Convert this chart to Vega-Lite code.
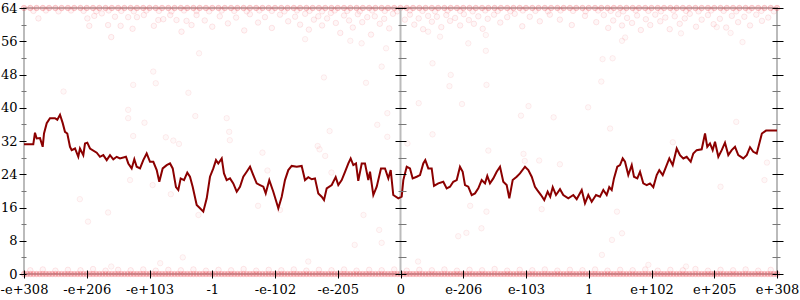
{
"$schema": "https://vega.github.io/schema/vega-lite/v6.json",
"width": 753, "height": 266,
"autosize": {"type": "none"},
"padding": {"left": 24, "top": 8, "right": 23, "bottom": 26},
"background": "white",
"config": {"view": {"stroke": "#bbbbbb", "strokeWidth": 2}, "axis": {"labelFont": "DejaVu Serif", "labelFontSize": 13, "labelColor": "#000", "grid": false, "title": null}},
"datasets": {
"band": [
{"x":-6,"y":0},{"x":-5.95,"y":0},{"x":-5.9,"y":0},{"x":-5.85,"y":0},{"x":-5.8,"y":0},{"x":-5.75,"y":0},{"x":-5.7,"y":0},{"x":-5.65,"y":0},{"x":-5.6,"y":0},{"x":-5.55,"y":0},{"x":-5.5,"y":0},{"x":-5.45,"y":0},{"x":-5.4,"y":0},{"x":-5.35,"y":0},{"x":-5.3,"y":0},{"x":-5.25,"y":0},{"x":-5.2,"y":0},{"x":-5.15,"y":0},{"x":-5.1,"y":0},{"x":-5.05,"y":0},
{"x":-5,"y":0},{"x":-4.95,"y":0},{"x":-4.9,"y":0},{"x":-4.85,"y":0},{"x":-4.8,"y":0},{"x":-4.75,"y":0},{"x":-4.7,"y":0},{"x":-4.65,"y":0},{"x":-4.6,"y":0},{"x":-4.55,"y":0},{"x":-4.5,"y":0},{"x":-4.45,"y":0},{"x":-4.4,"y":0},{"x":-4.35,"y":0},{"x":-4.3,"y":0},{"x":-4.25,"y":0},{"x":-4.2,"y":0},{"x":-4.15,"y":0},{"x":-4.1,"y":0},{"x":-4.05,"y":0},
{"x":-4,"y":0},{"x":-3.95,"y":0},{"x":-3.9,"y":0},{"x":-3.85,"y":0},{"x":-3.8,"y":0},{"x":-3.75,"y":0},{"x":-3.7,"y":0},{"x":-3.65,"y":0},{"x":-3.6,"y":0},{"x":-3.55,"y":0},{"x":-3.5,"y":0},{"x":-3.45,"y":0},{"x":-3.4,"y":0},{"x":-3.35,"y":0},{"x":-3.3,"y":0},{"x":-3.25,"y":0},{"x":-3.2,"y":0},{"x":-3.15,"y":0},{"x":-3.1,"y":0},{"x":-3.05,"y":0},
{"x":-3,"y":0},{"x":-2.95,"y":0},{"x":-2.9,"y":0},{"x":-2.85,"y":0},{"x":-2.8,"y":0},{"x":-2.75,"y":0},{"x":-2.7,"y":0},{"x":-2.65,"y":0},{"x":-2.6,"y":0},{"x":-2.55,"y":0},{"x":-2.5,"y":0},{"x":-2.45,"y":0},{"x":-2.4,"y":0},{"x":-2.35,"y":0},{"x":-2.3,"y":0},{"x":-2.25,"y":0},{"x":-2.2,"y":0},{"x":-2.15,"y":0},{"x":-2.1,"y":0},{"x":-2.05,"y":0},
{"x":-2,"y":0},{"x":-1.95,"y":0},{"x":-1.9,"y":0},{"x":-1.85,"y":0},{"x":-1.8,"y":0},{"x":-1.75,"y":0},{"x":-1.7,"y":0},{"x":-1.65,"y":0},{"x":-1.6,"y":0},{"x":-1.55,"y":0},{"x":-1.5,"y":0},{"x":-1.45,"y":0},{"x":-1.4,"y":0},{"x":-1.35,"y":0},{"x":-1.3,"y":0},{"x":-1.25,"y":0},{"x":-1.2,"y":0},{"x":-1.15,"y":0},{"x":-1.1,"y":0},{"x":-1.05,"y":0},
{"x":-1,"y":0},{"x":-0.95,"y":0},{"x":-0.9,"y":0},{"x":-0.85,"y":0},{"x":-0.8,"y":0},{"x":-0.75,"y":0},{"x":-0.7,"y":0},{"x":-0.65,"y":0},{"x":-0.6,"y":0},{"x":-0.55,"y":0},{"x":-0.5,"y":0},{"x":-0.45,"y":0},{"x":-0.4,"y":0},{"x":-0.35,"y":0},{"x":-0.3,"y":0},{"x":-0.25,"y":0},{"x":-0.2,"y":0},{"x":-0.15,"y":0},{"x":-0.1,"y":0},{"x":-0.05,"y":0},
{"x":0,"y":0},{"x":0.05,"y":0},{"x":0.1,"y":0},{"x":0.15,"y":0},{"x":0.2,"y":0},{"x":0.25,"y":0},{"x":0.3,"y":0},{"x":0.35,"y":0},{"x":0.4,"y":0},{"x":0.45,"y":0},{"x":0.5,"y":0},{"x":0.55,"y":0},{"x":0.6,"y":0},{"x":0.65,"y":0},{"x":0.7,"y":0},{"x":0.75,"y":0},{"x":0.8,"y":0},{"x":0.85,"y":0},{"x":0.9,"y":0},{"x":0.95,"y":0},
{"x":1,"y":0},{"x":1.05,"y":0},{"x":1.1,"y":0},{"x":1.15,"y":0},{"x":1.2,"y":0},{"x":1.25,"y":0},{"x":1.3,"y":0},{"x":1.35,"y":0},{"x":1.4,"y":0},{"x":1.45,"y":0},{"x":1.5,"y":0},{"x":1.55,"y":0},{"x":1.6,"y":0},{"x":1.65,"y":0},{"x":1.7,"y":0},{"x":1.75,"y":0},{"x":1.8,"y":0},{"x":1.85,"y":0},{"x":1.9,"y":0},{"x":1.95,"y":0},
{"x":2,"y":0},{"x":2.05,"y":0},{"x":2.1,"y":0},{"x":2.15,"y":0},{"x":2.2,"y":0},{"x":2.25,"y":0},{"x":2.3,"y":0},{"x":2.35,"y":0},{"x":2.4,"y":0},{"x":2.45,"y":0},{"x":2.5,"y":0},{"x":2.55,"y":0},{"x":2.6,"y":0},{"x":2.65,"y":0},{"x":2.7,"y":0},{"x":2.75,"y":0},{"x":2.8,"y":0},{"x":2.85,"y":0},{"x":2.9,"y":0},{"x":2.95,"y":0},
{"x":3,"y":0},{"x":3.05,"y":0},{"x":3.1,"y":0},{"x":3.15,"y":0},{"x":3.2,"y":0},{"x":3.25,"y":0},{"x":3.3,"y":0},{"x":3.35,"y":0},{"x":3.4,"y":0},{"x":3.45,"y":0},{"x":3.5,"y":0},{"x":3.55,"y":0},{"x":3.6,"y":0},{"x":3.65,"y":0},{"x":3.7,"y":0},{"x":3.75,"y":0},{"x":3.8,"y":0},{"x":3.85,"y":0},{"x":3.9,"y":0},{"x":3.95,"y":0},
{"x":4,"y":0},{"x":4.05,"y":0},{"x":4.1,"y":0},{"x":4.15,"y":0},{"x":4.2,"y":0},{"x":4.25,"y":0},{"x":4.3,"y":0},{"x":4.35,"y":0},{"x":4.4,"y":0},{"x":4.45,"y":0},{"x":4.5,"y":0},{"x":4.55,"y":0},{"x":4.6,"y":0},{"x":4.65,"y":0},{"x":4.7,"y":0},{"x":4.75,"y":0},{"x":4.8,"y":0},{"x":4.85,"y":0},{"x":4.9,"y":0},{"x":4.95,"y":0},
{"x":5,"y":0},{"x":5.05,"y":0},{"x":5.1,"y":0},{"x":5.15,"y":0},{"x":5.2,"y":0},{"x":5.25,"y":0},{"x":5.3,"y":0},{"x":5.35,"y":0},{"x":5.4,"y":0},{"x":5.45,"y":0},{"x":5.5,"y":0},{"x":5.55,"y":0},{"x":5.6,"y":0},{"x":5.65,"y":0},{"x":5.7,"y":0},{"x":5.75,"y":0},{"x":5.8,"y":0},{"x":5.85,"y":0},{"x":5.9,"y":0},{"x":5.95,"y":0},{"x":6,"y":0},
{"x":-6,"y":64},{"x":-5.9,"y":64},{"x":-5.8,"y":64},{"x":-5.7,"y":64},{"x":-5.6,"y":64},{"x":-5.5,"y":64},{"x":-5.4,"y":64},{"x":-5.3,"y":64},{"x":-5.2,"y":64},{"x":-5.1,"y":64},{"x":-5,"y":64},{"x":-4.9,"y":64},{"x":-4.8,"y":64},{"x":-4.7,"y":64},{"x":-4.6,"y":64},{"x":-4.5,"y":64},{"x":-4.4,"y":64},{"x":-4.3,"y":64},{"x":-4.2,"y":64},{"x":-4.1,"y":64},
{"x":-4,"y":64},{"x":-3.9,"y":64},{"x":-3.8,"y":64},{"x":-3.7,"y":64},{"x":-3.6,"y":64},{"x":-3.5,"y":64},{"x":-3.4,"y":64},{"x":-3.3,"y":64},{"x":-3.2,"y":64},{"x":-3.1,"y":64},{"x":-3,"y":64},{"x":-2.9,"y":64},{"x":-2.8,"y":64},{"x":-2.7,"y":64},{"x":-2.6,"y":64},{"x":-2.5,"y":64},{"x":-2.4,"y":64},{"x":-2.3,"y":64},{"x":-2.2,"y":64},{"x":-2.1,"y":64},
{"x":-2,"y":64},{"x":-1.9,"y":64},{"x":-1.8,"y":64},{"x":-1.7,"y":64},{"x":-1.6,"y":64},{"x":-1.5,"y":64},{"x":-1.4,"y":64},{"x":-1.3,"y":64},{"x":-1.2,"y":64},{"x":-1.1,"y":64},{"x":-1,"y":64},{"x":-0.9,"y":64},{"x":-0.8,"y":64},{"x":-0.7,"y":64},{"x":-0.6,"y":64},{"x":-0.5,"y":64},{"x":-0.4,"y":64},{"x":-0.3,"y":64},{"x":-0.2,"y":64},{"x":-0.1,"y":64},
{"x":0,"y":64},{"x":0.1,"y":64},{"x":0.2,"y":64},{"x":0.3,"y":64},{"x":0.4,"y":64},{"x":0.5,"y":64},{"x":0.6,"y":64},{"x":0.7,"y":64},{"x":0.8,"y":64},{"x":0.9,"y":64},{"x":1,"y":64},{"x":1.1,"y":64},{"x":1.2,"y":64},{"x":1.3,"y":64},{"x":1.4,"y":64},{"x":1.5,"y":64},{"x":1.6,"y":64},{"x":1.7,"y":64},{"x":1.8,"y":64},{"x":1.9,"y":64},
{"x":2,"y":64},{"x":2.1,"y":64},{"x":2.2,"y":64},{"x":2.3,"y":64},{"x":2.4,"y":64},{"x":2.5,"y":64},{"x":2.6,"y":64},{"x":2.7,"y":64},{"x":2.8,"y":64},{"x":2.9,"y":64},{"x":3,"y":64},{"x":3.1,"y":64},{"x":3.2,"y":64},{"x":3.3,"y":64},{"x":3.4,"y":64},{"x":3.5,"y":64},{"x":3.6,"y":64},{"x":3.7,"y":64},{"x":3.8,"y":64},{"x":3.9,"y":64},
{"x":4,"y":64},{"x":4.1,"y":64},{"x":4.2,"y":64},{"x":4.3,"y":64},{"x":4.4,"y":64},{"x":4.5,"y":64},{"x":4.6,"y":64},{"x":4.7,"y":64},{"x":4.8,"y":64},{"x":4.9,"y":64},{"x":5,"y":64},{"x":5.1,"y":64},{"x":5.2,"y":64},{"x":5.3,"y":64},{"x":5.4,"y":64},{"x":5.5,"y":64},{"x":5.6,"y":64},{"x":5.7,"y":64},{"x":5.8,"y":64},{"x":5.9,"y":64},{"x":6,"y":64}
],
"haze": [
{"x":-5.9,"y":0.9},{"x":-5.7,"y":1.1},{"x":-5.5,"y":0.8},{"x":-5.3,"y":1.0},{"x":-5.1,"y":0.9},{"x":-4.9,"y":1.2},{"x":-4.7,"y":0.8},{"x":-4.5,"y":1.0},{"x":-4.3,"y":0.9},{"x":-4.1,"y":1.1},{"x":-3.9,"y":0.8},{"x":-3.7,"y":1.0},{"x":-3.5,"y":0.9},{"x":-3.3,"y":1.1},{"x":-3.1,"y":0.8},{"x":-2.9,"y":1.0},{"x":-2.7,"y":0.9},{"x":-2.5,"y":1.2},{"x":-2.3,"y":0.8},{"x":-2.1,"y":1.0},{"x":-1.9,"y":0.9},{"x":-1.7,"y":1.1},{"x":-1.5,"y":0.8},{"x":-1.3,"y":1.0},{"x":-1.1,"y":0.9},{"x":-0.9,"y":1.1},{"x":-0.7,"y":0.8},{"x":-0.5,"y":1.0},{"x":-0.3,"y":0.9},{"x":-0.1,"y":1.1},
{"x":0.1,"y":0.8},{"x":0.3,"y":1.0},{"x":0.5,"y":0.9},{"x":0.7,"y":1.1},{"x":0.9,"y":0.8},{"x":1.1,"y":1.0},{"x":1.3,"y":0.9},{"x":1.5,"y":1.2},{"x":1.7,"y":0.8},{"x":1.9,"y":1.0},{"x":2.1,"y":0.9},{"x":2.3,"y":1.1},{"x":2.5,"y":0.8},{"x":2.7,"y":1.0},{"x":2.9,"y":0.9},{"x":3.1,"y":1.1},{"x":3.3,"y":0.8},{"x":3.5,"y":1.0},{"x":3.7,"y":0.9},{"x":3.9,"y":1.1},{"x":4.1,"y":0.8},{"x":4.3,"y":1.0},{"x":4.5,"y":0.9},{"x":4.7,"y":1.2},{"x":4.9,"y":0.8},{"x":5.1,"y":1.0},{"x":5.3,"y":0.9},{"x":5.5,"y":1.1},{"x":5.7,"y":0.8},{"x":5.9,"y":1.0},
{"x":-5.85,"y":63.3},{"x":-5.65,"y":63.4},{"x":-5.45,"y":63.2},{"x":-5.25,"y":63.4},{"x":-5.05,"y":63.3},{"x":-4.85,"y":63.2},{"x":-4.65,"y":63.4},{"x":-4.45,"y":63.3},{"x":-4.25,"y":63.2},{"x":-4.05,"y":63.4},{"x":-3.85,"y":63.3},{"x":-3.65,"y":63.2},{"x":-3.45,"y":63.4},{"x":-3.25,"y":63.3},{"x":-3.05,"y":63.2},{"x":-2.85,"y":63.4},{"x":-2.65,"y":63.3},{"x":-2.45,"y":63.2},{"x":-2.25,"y":63.4},{"x":-2.05,"y":63.3},{"x":-1.85,"y":63.2},{"x":-1.65,"y":63.4},{"x":-1.45,"y":63.3},{"x":-1.25,"y":63.2},{"x":-1.05,"y":63.4},{"x":-0.85,"y":63.3},{"x":-0.65,"y":63.2},{"x":-0.45,"y":63.4},{"x":-0.25,"y":63.3},{"x":-0.05,"y":63.2},
{"x":0.15,"y":63.4},{"x":0.35,"y":63.3},{"x":0.55,"y":63.2},{"x":0.75,"y":63.4},{"x":0.95,"y":63.3},{"x":1.15,"y":63.2},{"x":1.35,"y":63.4},{"x":1.55,"y":63.3},{"x":1.75,"y":63.2},{"x":1.95,"y":63.4},{"x":2.15,"y":63.3},{"x":2.35,"y":63.2},{"x":2.55,"y":63.4},{"x":2.75,"y":63.3},{"x":2.95,"y":63.2},{"x":3.15,"y":63.4},{"x":3.35,"y":63.3},{"x":3.55,"y":63.2},{"x":3.75,"y":63.4},{"x":3.95,"y":63.3},{"x":4.15,"y":63.2},{"x":4.35,"y":63.4},{"x":4.55,"y":63.3},{"x":4.75,"y":63.2},{"x":4.95,"y":63.4},{"x":5.15,"y":63.3},{"x":5.35,"y":63.2},{"x":5.55,"y":63.4},{"x":5.75,"y":63.3},{"x":5.95,"y":63.2},
{"x":-5.77,"y":61.5},{"x":-4.99,"y":61.5},{"x":-4.96,"y":59.7},{"x":-4.88,"y":62.1},{"x":-4.76,"y":62.7},{"x":-4.66,"y":59.9},{"x":-4.61,"y":57.0},{"x":-4.55,"y":61.9},{"x":-4.46,"y":59.7},{"x":-4.34,"y":61.8},{"x":-4.27,"y":59.0},{"x":-4.2,"y":61.8},{"x":-4.09,"y":62.3},{"x":-3.93,"y":59.7},{"x":-3.86,"y":61.1},{"x":-3.78,"y":61.3},{"x":-3.67,"y":62.3},{"x":-3.57,"y":61.1},{"x":-3.49,"y":58.3},{"x":-3.41,"y":60.9},{"x":-3.33,"y":59.9},{"x":-3.25,"y":62.3},
{"x":-3.12,"y":61.0},{"x":-3.0,"y":59.5},{"x":-2.88,"y":62.0},{"x":-2.75,"y":60.3},{"x":-2.62,"y":61.7},{"x":-2.49,"y":58.6},{"x":-2.4,"y":62.5},{"x":-2.27,"y":60.5},{"x":-2.16,"y":61.8},{"x":-2.05,"y":59.2},{"x":-1.92,"y":62.4},{"x":-1.79,"y":60.8},{"x":-1.68,"y":61.9},{"x":-1.6,"y":60.0},{"x":-1.52,"y":62.6},{"x":-1.46,"y":58.8},{"x":-1.38,"y":61.2},{"x":-1.31,"y":62.0},{"x":-1.25,"y":59.8},{"x":-1.17,"y":61.5},{"x":-1.11,"y":62.8},{"x":-1.03,"y":60.4},{"x":-0.96,"y":58.0},{"x":-0.9,"y":62.2},{"x":-0.82,"y":61.0},{"x":-0.76,"y":59.3},{"x":-0.68,"y":62.5},{"x":-0.61,"y":60.6},{"x":-0.53,"y":61.8},{"x":-0.47,"y":57.6},{"x":-0.41,"y":62.0},{"x":-0.33,"y":60.2},{"x":-0.26,"y":61.4},{"x":-0.18,"y":59.1},{"x":-0.12,"y":62.6},
{"x":0.07,"y":61.2},{"x":0.15,"y":62.4},{"x":0.22,"y":60.0},{"x":0.29,"y":61.5},{"x":0.36,"y":58.9},{"x":0.44,"y":62.1},{"x":0.5,"y":60.7},{"x":0.58,"y":61.9},{"x":0.65,"y":59.4},{"x":0.73,"y":62.3},{"x":0.79,"y":60.9},{"x":0.87,"y":61.6},{"x":0.95,"y":59.8},{"x":1.01,"y":62.5},{"x":1.09,"y":61.1},{"x":1.17,"y":60.2},{"x":1.24,"y":62.0},{"x":1.31,"y":59.0},{"x":1.39,"y":61.4},{"x":1.49,"y":62.4},{"x":1.59,"y":60.5},{"x":1.7,"y":61.8},{"x":1.82,"y":62.6},{"x":1.94,"y":59.6},{"x":2.06,"y":61.9},{"x":2.22,"y":60.8},{"x":2.38,"y":62.4},{"x":2.54,"y":61.2},{"x":2.73,"y":59.9},{"x":2.94,"y":62.1},{"x":3.12,"y":60.6},
{"x":3.24,"y":62.3},{"x":3.31,"y":59.2},{"x":3.39,"y":61.0},{"x":3.47,"y":62.5},{"x":3.53,"y":59.8},{"x":3.61,"y":61.6},{"x":3.69,"y":60.4},{"x":3.77,"y":62.2},{"x":3.83,"y":58.7},{"x":3.91,"y":61.3},{"x":3.98,"y":59.9},{"x":4.06,"y":62.4},{"x":4.14,"y":60.8},{"x":4.22,"y":61.7},{"x":4.29,"y":58.9},{"x":4.37,"y":62.0},{"x":4.45,"y":60.2},{"x":4.53,"y":61.5},{"x":4.61,"y":62.6},{"x":4.71,"y":59.5},{"x":4.8,"y":61.2},{"x":4.9,"y":62.3},{"x":4.99,"y":60.1},{"x":5.09,"y":61.4},{"x":5.19,"y":59.3},{"x":5.28,"y":62.1},{"x":5.38,"y":60.6},{"x":5.48,"y":61.9},{"x":5.57,"y":59.8},{"x":5.67,"y":62.4},{"x":5.76,"y":60.9},{"x":5.86,"y":61.7}
],
"pts": [
{"x":-4.34,"y":39.5},{"x":-4.34,"y":37.5},{"x":-4.08,"y":36.4},{"x":-4.26,"y":33.2},{"x":-3.74,"y":32.9},{"x":-3.62,"y":32.1},{"x":-3.53,"y":31.3},{"x":-3.27,"y":38.0},{"x":-2.77,"y":37.5},{"x":-2.73,"y":34.2},{"x":-2.72,"y":32.2},{"x":-2.2,"y":29.2},{"x":-2.12,"y":24.9},{"x":-4.31,"y":22.6},{"x":-3.95,"y":21.4},{"x":-3.66,"y":19.2},{"x":-5.11,"y":18.0},{"x":-4.66,"y":14.8},{"x":-3.22,"y":14.2},{"x":-2.27,"y":16.4},{"x":-4.98,"y":12.6},{"x":-4.61,"y":1.8},{"x":-3.83,"y":2.6},{"x":-3.47,"y":4.0},
{"x":-0.59,"y":14.2},{"x":-0.34,"y":10.6},{"x":-0.3,"y":7.5},{"x":-0.73,"y":7.0},{"x":-1.47,"y":3.0},{"x":0.28,"y":3.0},{"x":0.92,"y":9.1},{"x":1.05,"y":9.9},{"x":1.29,"y":11.0},{"x":1.37,"y":15.0},{"x":1.11,"y":16.4},{"x":3.45,"y":15.0},{"x":3.53,"y":9.8},{"x":3.37,"y":8.2},{"x":3.21,"y":4.6},{"x":3.95,"y":2.2},{"x":4.55,"y":1.8},
{"x":-1.13,"y":34.4},{"x":-0.21,"y":38.7},{"x":-0.37,"y":35.9},{"x":-0.21,"y":33.0},{"x":0.29,"y":41.1},{"x":0.98,"y":40.9},{"x":0.51,"y":33.6},{"x":0.11,"y":31.4},{"x":1.4,"y":29.7},{"x":1.96,"y":28.9},{"x":1.98,"y":27.2},{"x":2.21,"y":27.3},{"x":1.92,"y":38.1},{"x":2.04,"y":40.4},{"x":-1.32,"y":30.8},{"x":-1.29,"y":30.0},{"x":-1.2,"y":28.4},{"x":-1.1,"y":24.4},{"x":-1.92,"y":15.4},
{"x":2.99,"y":40.1},{"x":2.44,"y":37.7},{"x":3.34,"y":35.0},{"x":2.54,"y":26.4},{"x":5.35,"y":36.6},{"x":5.84,"y":26.8},{"x":5.8,"y":22.6},{"x":5.1,"y":21.0},{"x":2.25,"y":15.6},{"x":4.34,"y":31.7},
{"x":-5.37,"y":43.9},{"x":-3.94,"y":48.7},{"x":-3.9,"y":45.9},{"x":-4.26,"y":45.5},{"x":-3.38,"y":43.6},{"x":-3.21,"y":53.1},{"x":-1.22,"y":47.3},{"x":-0.3,"y":49.9},{"x":-0.55,"y":46.0},{"x":0.51,"y":50.7},{"x":0.8,"y":47.9},{"x":0.78,"y":45.2},{"x":1.37,"y":45.5},{"x":1.36,"y":53.7},{"x":3.22,"y":51.7},{"x":3.38,"y":51.9},{"x":3.2,"y":46.3},{"x":-0.23,"y":54.3},{"x":-0.62,"y":55.5},{"x":-0.8,"y":56.1},{"x":-1.52,"y":56.5},{"x":1.08,"y":55.5},{"x":5.45,"y":55.8},{"x":5.26,"y":58.0},{"x":5.04,"y":59.4},{"x":4.47,"y":57.9},{"x":3.53,"y":56.1},{"x":3.58,"y":56.9},{"x":0.44,"y":58.3},{"x":0.63,"y":57.1},{"x":1.36,"y":57.5}
],
"line": [
{"x":-6,"y":31.2},{"x":-5.852,"y":31.2},{"x":-5.825,"y":34.0},{"x":-5.798,"y":32.6},{"x":-5.745,"y":32.7},{"x":-5.702,"y":30.6},{"x":-5.681,"y":33.8},{"x":-5.638,"y":36.3},{"x":-5.586,"y":37.5},{"x":-5.506,"y":37.5},{"x":-5.469,"y":37.1},{"x":-5.426,"y":38.3},{"x":-5.383,"y":36.3},{"x":-5.347,"y":34.2},{"x":-5.31,"y":33.8},{"x":-5.267,"y":30.6},{"x":-5.24,"y":29.8},{"x":-5.187,"y":30.2},{"x":-5.135,"y":28.2},{"x":-5.108,"y":30.2},{"x":-5.055,"y":28.6},{"x":-5.028,"y":31.4},{"x":-4.991,"y":31.6},{"x":-4.948,"y":30.2},{"x":-4.841,"y":29.2},{"x":-4.789,"y":28.2},{"x":-4.736,"y":28.6},{"x":-4.682,"y":27.4},{"x":-4.629,"y":28.6},{"x":-4.577,"y":27.6},{"x":-4.523,"y":28.2},{"x":-4.47,"y":27.8},{"x":-4.375,"y":28.2},{"x":-4.338,"y":26.6},{"x":-4.284,"y":25.4},{"x":-4.242,"y":27.6},{"x":-4.204,"y":25.8},{"x":-4.151,"y":25.4},{"x":-4.099,"y":27.4},{"x":-4.045,"y":29.0},{"x":-3.992,"y":27.0},{"x":-3.939,"y":27.0},{"x":-3.885,"y":25.0},{"x":-3.844,"y":22.2},{"x":-3.79,"y":25.4},{"x":-3.726,"y":26.2},{"x":-3.673,"y":26.6},{"x":-3.63,"y":25.4},{"x":-3.578,"y":20.9},{"x":-3.541,"y":20.2},{"x":-3.503,"y":23.0},{"x":-3.45,"y":22.6},{"x":-3.398,"y":24.4},{"x":-3.355,"y":23.4},{"x":-3.312,"y":21.0},{"x":-3.248,"y":16.6},{"x":-3.195,"y":15.8},{"x":-3.143,"y":15.0},{"x":-3.088,"y":18.2},{"x":-3.036,"y":23.4},{"x":-2.983,"y":25.4},{"x":-2.94,"y":27.4},{"x":-2.904,"y":26.6},{"x":-2.849,"y":27.8},{"x":-2.813,"y":24.2},{"x":-2.77,"y":22.6},{"x":-2.717,"y":23.0},{"x":-2.665,"y":21.8},{"x":-2.61,"y":19.8},{"x":-2.558,"y":21.0},{"x":-2.505,"y":23.4},{"x":-2.451,"y":24.6},{"x":-2.398,"y":25.8},{"x":-2.346,"y":23.8},{"x":-2.292,"y":21.8},{"x":-2.239,"y":21.4},{"x":-2.186,"y":21.0},{"x":-2.148,"y":19.4},{"x":-2.091,"y":22.6},{"x":-2.027,"y":19.8},{"x":-1.947,"y":15.8},{"x":-1.893,"y":18.6},{"x":-1.841,"y":22.6},{"x":-1.788,"y":25.0},{"x":-1.734,"y":26.0},{"x":-1.654,"y":25.8},{"x":-1.575,"y":26.0},{"x":-1.522,"y":22.6},{"x":-1.469,"y":23.3},{"x":-1.415,"y":22.8},{"x":-1.363,"y":23.0},{"x":-1.31,"y":19.4},{"x":-1.256,"y":18.6},{"x":-1.219,"y":17.8},{"x":-1.176,"y":20.6},{"x":-1.096,"y":21.4},{"x":-1.033,"y":23.3},{"x":-0.991,"y":21.4},{"x":-0.937,"y":22.6},{"x":-0.884,"y":24.6},{"x":-0.831,"y":26.6},{"x":-0.794,"y":27.8},{"x":-0.752,"y":26.2},{"x":-0.709,"y":26.6},{"x":-0.673,"y":22.4},{"x":-0.618,"y":26.6},{"x":-0.566,"y":26.6},{"x":-0.513,"y":22.6},{"x":-0.486,"y":24.6},{"x":-0.433,"y":19.0},{"x":-0.379,"y":21.0},{"x":-0.311,"y":25.4},{"x":-0.247,"y":25.4},{"x":-0.194,"y":23.0},{"x":-0.156,"y":25.0},{"x":-0.115,"y":19.0},{"x":-0.035,"y":18.2},{"x":0.019,"y":18.6},{"x":0.045,"y":22.6},{"x":0.099,"y":25.8},{"x":0.151,"y":25.4},{"x":0.194,"y":23.0},{"x":0.258,"y":23.4},{"x":0.311,"y":23.8},{"x":0.363,"y":26.6},{"x":0.395,"y":27.4},{"x":0.443,"y":25.4},{"x":0.497,"y":25.4},{"x":0.534,"y":21.2},{"x":0.602,"y":21.8},{"x":0.682,"y":22.2},{"x":0.736,"y":20.6},{"x":0.789,"y":21.0},{"x":0.841,"y":22.2},{"x":0.896,"y":22.6},{"x":0.948,"y":25.8},{"x":0.991,"y":24.6},{"x":1.028,"y":21.4},{"x":1.08,"y":21.0},{"x":1.135,"y":19.0},{"x":1.187,"y":19.4},{"x":1.24,"y":20.6},{"x":1.294,"y":22.6},{"x":1.347,"y":21.8},{"x":1.383,"y":23.6},{"x":1.426,"y":21.8},{"x":1.479,"y":23.0},{"x":1.533,"y":24.6},{"x":1.586,"y":25.8},{"x":1.638,"y":22.2},{"x":1.692,"y":21.4},{"x":1.734,"y":18.2},{"x":1.788,"y":22.6},{"x":1.852,"y":23.4},{"x":1.904,"y":24.2},{"x":1.984,"y":25.8},{"x":2.037,"y":25.0},{"x":2.091,"y":23.4},{"x":2.143,"y":21.0},{"x":2.18,"y":20.2},{"x":2.239,"y":19.0},{"x":2.291,"y":17.8},{"x":2.345,"y":19.8},{"x":2.386,"y":18.6},{"x":2.426,"y":20.9},{"x":2.478,"y":19.0},{"x":2.542,"y":20.4},{"x":2.594,"y":19.0},{"x":2.674,"y":18.2},{"x":2.754,"y":19.0},{"x":2.808,"y":18.0},{"x":2.888,"y":20.2},{"x":2.94,"y":17.0},{"x":2.993,"y":19.0},{"x":3.047,"y":17.4},{"x":3.116,"y":19.0},{"x":3.179,"y":18.6},{"x":3.232,"y":20.2},{"x":3.286,"y":19.0},{"x":3.327,"y":20.9},{"x":3.366,"y":20.2},{"x":3.402,"y":23.0},{"x":3.455,"y":25.8},{"x":3.498,"y":26.2},{"x":3.541,"y":27.8},{"x":3.578,"y":27.0},{"x":3.63,"y":23.8},{"x":3.685,"y":26.2},{"x":3.721,"y":23.4},{"x":3.774,"y":23.0},{"x":3.817,"y":24.6},{"x":3.869,"y":21.8},{"x":3.924,"y":21.4},{"x":3.976,"y":21.8},{"x":4.029,"y":20.9},{"x":4.083,"y":23.8},{"x":4.124,"y":25.0},{"x":4.179,"y":23.8},{"x":4.231,"y":25.8},{"x":4.284,"y":27.8},{"x":4.338,"y":26.2},{"x":4.402,"y":30.2},{"x":4.454,"y":28.6},{"x":4.507,"y":27.8},{"x":4.561,"y":28.2},{"x":4.625,"y":27.0},{"x":4.666,"y":29.0},{"x":4.72,"y":29.8},{"x":4.8,"y":30.0},{"x":4.853,"y":33.8},{"x":4.889,"y":30.6},{"x":4.932,"y":31.4},{"x":4.975,"y":29.8},{"x":5.012,"y":31.8},{"x":5.065,"y":28.2},{"x":5.119,"y":29.8},{"x":5.171,"y":31.6},{"x":5.224,"y":28.6},{"x":5.278,"y":29.8},{"x":5.331,"y":30.6},{"x":5.383,"y":28.6},{"x":5.463,"y":27.8},{"x":5.518,"y":28.6},{"x":5.57,"y":30.5},{"x":5.622,"y":29.4},{"x":5.677,"y":29.0},{"x":5.718,"y":31.4},{"x":5.759,"y":33.8},{"x":5.825,"y":34.5},{"x":6,"y":34.5}
]
},
"resolve": {"scale": {"y": "independent"}, "axis": {"y": "independent"}},
"layer": [
{
"data": {"name": "band"},
"mark": {"type": "point", "filled": true, "fill": "#e8202a", "fillOpacity": 0.18, "stroke": "#e8202a", "strokeOpacity": 0.18, "strokeWidth": 1, "size": 30},
"encoding": {
"x": {"field": "x", "type": "quantitative", "scale": {"domain": [-6, 6], "nice": false, "zero": false},
"axis": {"values": [-6,-5,-4,-3,-2,-1,0,1,2,3,4,5,6], "labelExpr": "datum.value == -6 ? '-e+308' : datum.value == -5 ? '-e+206' : datum.value == -4 ? '-e+103' : datum.value == -3 ? '-1' : datum.value == -2 ? '-e-102' : datum.value == -1 ? '-e-205' : datum.value == 0 ? '0' : datum.value == 1 ? 'e-206' : datum.value == 2 ? 'e-103' : datum.value == 3 ? '1' : datum.value == 4 ? 'e+102' : datum.value == 5 ? 'e+205' : 'e+308'", "offset": -4, "tickSize": 8, "tickColor": "#000000", "domain": false, "labelPadding": 5, "labelOverlap": false, "labelFlush": false, "labelBound": false, "zindex": 1}},
"y": {"field": "y", "type": "quantitative", "scale": {"domain": [0, 64], "nice": false},
"axis": {"orient": "left", "offset": -2, "domain": false, "values": [0,4,8,12,16,20,24,28,32,36,40,44,48,52,56,60,64],
"labelExpr": "datum.value % 8 == 0 ? datum.label : ''",
"tickSize": {"condition": {"test": "datum.value % 8 == 0", "value": 7}, "value": 5},
"tickColor": {"condition": {"test": "datum.value % 8 == 0", "value": "#000000"}, "value": "#777777"}, "labelPadding": 2, "zindex": 1}}
}
},
{
"data": {"name": "haze"},
"mark": {"type": "point", "filled": true, "fill": "#e8202a", "fillOpacity": 0.04, "stroke": "#e8202a", "strokeOpacity": 0.1, "strokeWidth": 1, "size": 30},
"encoding": {
"x": {"field": "x", "type": "quantitative"},
"y": {"field": "y", "type": "quantitative", "scale": {"domain": [0, 64], "nice": false},
"axis": {"orient": "left", "offset": -382, "domain": false, "labels": false, "values": [0,4,8,12,16,20,24,28,32,36,40,44,48,52,56,60,64],
"tickSize": {"condition": {"test": "datum.value % 8 == 0", "value": 11}, "value": 8},
"tickColor": {"condition": {"test": "datum.value % 8 == 0", "value": "#000000"}, "value": "#777777"}, "zindex": 1}}
}
},
{
"data": {"name": "pts"},
"mark": {"type": "point", "filled": true, "fill": "#e8202a", "fillOpacity": 0.03, "stroke": "#e8202a", "strokeOpacity": 0.07, "strokeWidth": 1, "size": 30},
"encoding": {
"x": {"field": "x", "type": "quantitative"},
"y": {"field": "y", "type": "quantitative", "scale": {"domain": [0, 64], "nice": false}, "axis": null}
}
},
{
"data": {"values": [{"x": 0}]},
"mark": {"type": "rule", "color": "#bbbbbb", "strokeWidth": 2},
"encoding": {
"x": {"field": "x", "type": "quantitative"}
}
},
{
"data": {"name": "line"},
"mark": {"type": "line", "color": "#8b0000", "strokeWidth": 2},
"encoding": {
"x": {"field": "x", "type": "quantitative"},
"y": {"field": "y", "type": "quantitative", "scale": {"domain": [0, 64], "nice": false},
"axis": {"orient": "right", "offset": -5, "domain": false, "labels": false, "values": [0,4,8,12,16,20,24,28,32,36,40,44,48,52,56,60,64],
"tickSize": {"condition": {"test": "datum.value % 8 == 0", "value": 11}, "value": 8},
"tickColor": {"condition": {"test": "datum.value % 8 == 0", "value": "#000000"}, "value": "#777777"}, "zindex": 1}}
}
}
]
}
